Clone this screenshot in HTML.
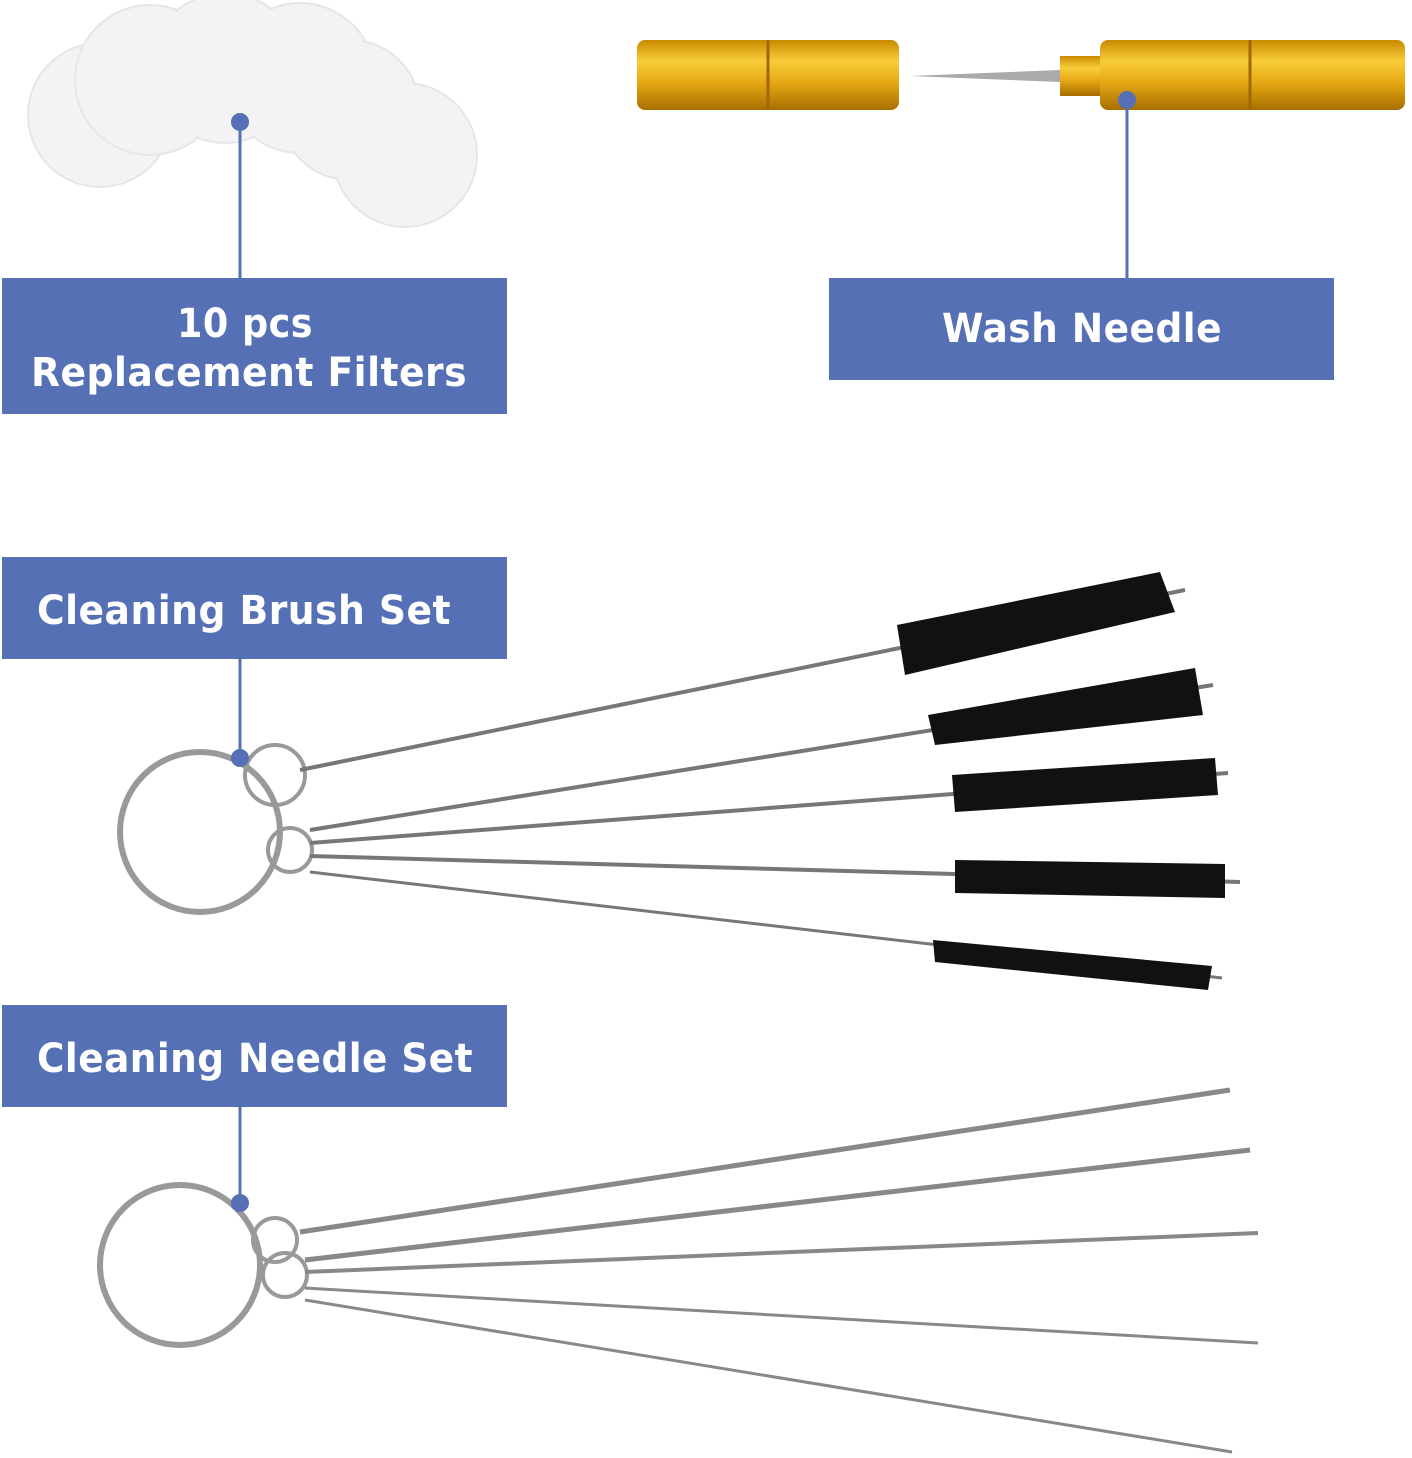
<!DOCTYPE html>
<html><head><meta charset="utf-8"><style>
html,body{margin:0;padding:0;background:#fff;width:1412px;height:1458px;overflow:hidden}
svg{display:block}
text{font-family:"DejaVu Sans","Liberation Sans",sans-serif;font-weight:bold;fill:#fff}
</style></head><body>
<svg width="1412" height="1458" viewBox="0 0 1412 1458" xmlns="http://www.w3.org/2000/svg">
<defs>
<linearGradient id="gold" x1="0" y1="0" x2="0" y2="1">
<stop offset="0" stop-color="#c98a00"/><stop offset="0.3" stop-color="#f8cd3a"/><stop offset="0.6" stop-color="#e7a914"/><stop offset="1" stop-color="#a86e00"/>
</linearGradient>
</defs>
<!-- filters -->
<g fill="#f3f3f3" stroke="#e6e6e6" stroke-width="2">
<circle cx="100" cy="115" r="72"/><circle cx="150" cy="80" r="75"/><circle cx="225" cy="68" r="75"/><circle cx="300" cy="78" r="75"/><circle cx="350" cy="110" r="70"/><circle cx="405" cy="155" r="72"/>
</g>
<g fill="#f3f3f3">
<circle cx="150" cy="80" r="73"/><circle cx="225" cy="68" r="73"/><circle cx="300" cy="78" r="73"/><circle cx="350" cy="110" r="68"/>
</g>
<!-- gold pieces -->
<rect x="637" y="40" width="262" height="70" rx="8" fill="url(#gold)"/>
<line x1="768" y1="40" x2="768" y2="110" stroke="#a06800" stroke-width="3"/>
<polygon points="910,76 1060,70 1060,82" fill="#aaa"/>
<rect x="1060" y="56" width="42" height="40" fill="url(#gold)"/>
<rect x="1100" y="40" width="305" height="70" rx="8" fill="url(#gold)"/>
<line x1="1250" y1="40" x2="1250" y2="110" stroke="#a06800" stroke-width="3"/>
<!-- brushes -->
<g stroke="#777" stroke-width="4" fill="none">
<circle cx="200" cy="832" r="80" stroke="#999" stroke-width="6"/>
<circle cx="275" cy="775" r="30" stroke="#999"/>
<circle cx="290" cy="850" r="22" stroke="#999"/>
<line x1="300" y1="770" x2="1185" y2="590"/>
<line x1="310" y1="830" x2="1213" y2="685"/>
<line x1="310" y1="843" x2="1228" y2="773"/>
<line x1="310" y1="856" x2="1240" y2="882"/>
<line x1="310" y1="872" x2="1222" y2="978" stroke-width="3"/>
</g>
<g fill="#111">
<polygon points="897,625 1160,572 1175,612 905,675"/>
<polygon points="928,715 1195,668 1203,715 935,745"/>
<polygon points="952,775 1215,758 1218,795 955,812"/>
<polygon points="955,860 1225,864 1225,898 955,893"/>
<polygon points="933,940 1212,966 1208,990 935,962"/>
</g>
<!-- needles -->
<g stroke="#888" stroke-width="5" fill="none">
<circle cx="180" cy="1265" r="80" stroke="#999" stroke-width="6"/>
<circle cx="275" cy="1240" r="22" stroke="#999" stroke-width="4"/>
<circle cx="285" cy="1275" r="22" stroke="#999" stroke-width="4"/>
<line x1="300" y1="1232" x2="1230" y2="1090"/>
<line x1="305" y1="1260" x2="1250" y2="1150"/>
<line x1="305" y1="1272" x2="1258" y2="1233" stroke-width="4"/>
<line x1="305" y1="1288" x2="1258" y2="1343" stroke-width="3"/>
<line x1="305" y1="1300" x2="1232" y2="1452" stroke-width="3"/>
</g>
<!-- connectors -->
<g stroke="#5670b5" stroke-width="3">
<line x1="240" y1="122" x2="240" y2="280"/>
<line x1="1127" y1="100" x2="1127" y2="280"/>
<line x1="240" y1="658" x2="240" y2="758"/>
<line x1="240" y1="1106" x2="240" y2="1203"/>
</g>
<g fill="#5670b5">
<circle cx="240" cy="122" r="9"/><circle cx="1127" cy="100" r="9"/><circle cx="240" cy="758" r="9"/><circle cx="240" cy="1203" r="9"/>
<rect x="2" y="278" width="505" height="136"/>
<rect x="829" y="278" width="505" height="102"/>
<rect x="2" y="557" width="505" height="102"/>
<rect x="2" y="1005" width="505" height="102"/>
</g>
<g font-size="40" text-anchor="middle" letter-spacing="0.5">
<text x="245" y="337" textLength="136" lengthAdjust="spacingAndGlyphs">10 pcs</text>
<text x="249" y="386" textLength="436" lengthAdjust="spacingAndGlyphs">Replacement Filters</text>
<text x="1082" y="342" textLength="280" lengthAdjust="spacingAndGlyphs">Wash Needle</text>
<text x="244" y="624" textLength="414" lengthAdjust="spacingAndGlyphs">Cleaning Brush Set</text>
<text x="255" y="1072" textLength="436" lengthAdjust="spacingAndGlyphs">Cleaning Needle Set</text>
</g>
</svg>
</body></html>
